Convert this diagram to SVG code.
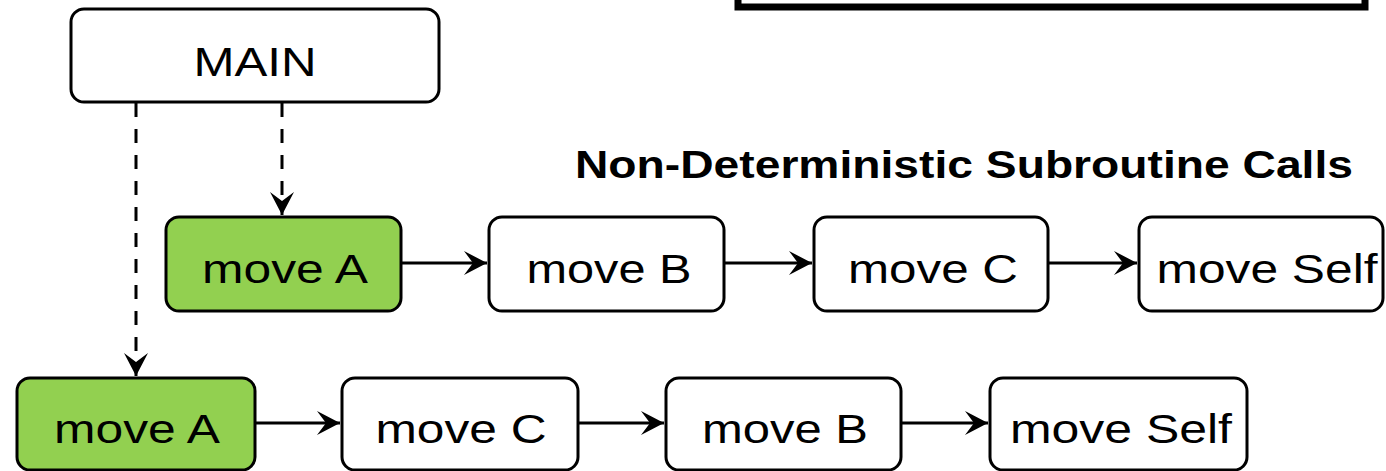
<svg xmlns="http://www.w3.org/2000/svg" width="1386" height="471" viewBox="0 0 1386 471">
  <style>
    .box { fill: #ffffff; stroke: #000000; stroke-width: 3; }
    .start { fill: #92D050; stroke: #000000; stroke-width: 3; }
    .lbl { font-family: "Liberation Sans", Arial, sans-serif; font-size: 41px; fill: #000000; text-anchor: middle; }
    .flow { stroke: #000000; stroke-width: 3; fill: none; marker-end: url(#arrow); }
    .call { stroke: #000000; stroke-width: 3; fill: none; stroke-dasharray: 14 12; marker-end: url(#arrow); }
  </style>
  <defs>
    <marker id="arrow" markerUnits="userSpaceOnUse" markerWidth="26" markerHeight="26" viewBox="0 0 26 26" refX="24" refY="13" orient="auto">
      <path d="M1,1 L24,13 L1,25 L10,13 z" fill="#000000"/>
    </marker>
  </defs>

  <!-- frame cut off at the top edge -->
  <rect x="738" y="-60" width="627" height="67" fill="#ffffff" stroke="#000000" stroke-width="7"/>

  <!-- title -->
  <text x="575" y="178" font-family="Liberation Sans, Arial, sans-serif" font-weight="bold" font-size="38" textLength="778" lengthAdjust="spacingAndGlyphs">Non-Deterministic Subroutine Calls</text>

  <!-- connectors -->
  <g id="connectors">
    <path class="call" d="M282,103 V215"/>
    <path class="call" d="M136,103 V376"/>
    <path class="flow" d="M401,263 H487"/>
    <path class="flow" d="M724,263 H812"/>
    <path class="flow" d="M1048,263 H1137"/>
    <path class="flow" d="M255,423 H340"/>
    <path class="flow" d="M578,423 H664"/>
    <path class="flow" d="M901,423 H988"/>
  </g>

  <g id="main">
    <rect class="box" x="71" y="9" width="368" height="93" rx="13"/>
    <text class="lbl" x="255" y="76" font-size="48" textLength="123" lengthAdjust="spacingAndGlyphs">MAIN</text>
  </g>

  <!-- first call order -->
  <g id="r1-move-a">
    <rect class="start" x="166" y="217" width="235" height="94" rx="13"/>
    <text class="lbl" x="285" y="283" textLength="166" lengthAdjust="spacingAndGlyphs">move A</text>
  </g>
  <g id="r1-move-b">
    <rect class="box" x="489" y="217" width="235" height="94" rx="13"/>
    <text class="lbl" x="609" y="283" textLength="165" lengthAdjust="spacingAndGlyphs">move B</text>
  </g>
  <g id="r1-move-c">
    <rect class="box" x="814" y="217" width="234" height="94" rx="13"/>
    <text class="lbl" x="933" y="283" textLength="170" lengthAdjust="spacingAndGlyphs">move C</text>
  </g>
  <g id="r1-move-self">
    <rect class="box" x="1139" y="217" width="244" height="94" rx="13"/>
    <text class="lbl" x="1267" y="283" textLength="221" lengthAdjust="spacingAndGlyphs">move Self</text>
  </g>

  <!-- second call order -->
  <g id="r2-move-a">
    <rect class="start" x="17" y="378" width="238" height="92" rx="13"/>
    <text class="lbl" x="137" y="443" textLength="166" lengthAdjust="spacingAndGlyphs">move A</text>
  </g>
  <g id="r2-move-c">
    <rect class="box" x="342" y="378" width="236" height="92" rx="13"/>
    <text class="lbl" x="461" y="443" textLength="171" lengthAdjust="spacingAndGlyphs">move C</text>
  </g>
  <g id="r2-move-b">
    <rect class="box" x="666" y="378" width="235" height="92" rx="13"/>
    <text class="lbl" x="785" y="443" textLength="166" lengthAdjust="spacingAndGlyphs">move B</text>
  </g>
  <g id="r2-move-self">
    <rect class="box" x="990" y="378" width="257" height="92" rx="13"/>
    <text class="lbl" x="1121" y="443" textLength="222" lengthAdjust="spacingAndGlyphs">move Self</text>
  </g>
</svg>
